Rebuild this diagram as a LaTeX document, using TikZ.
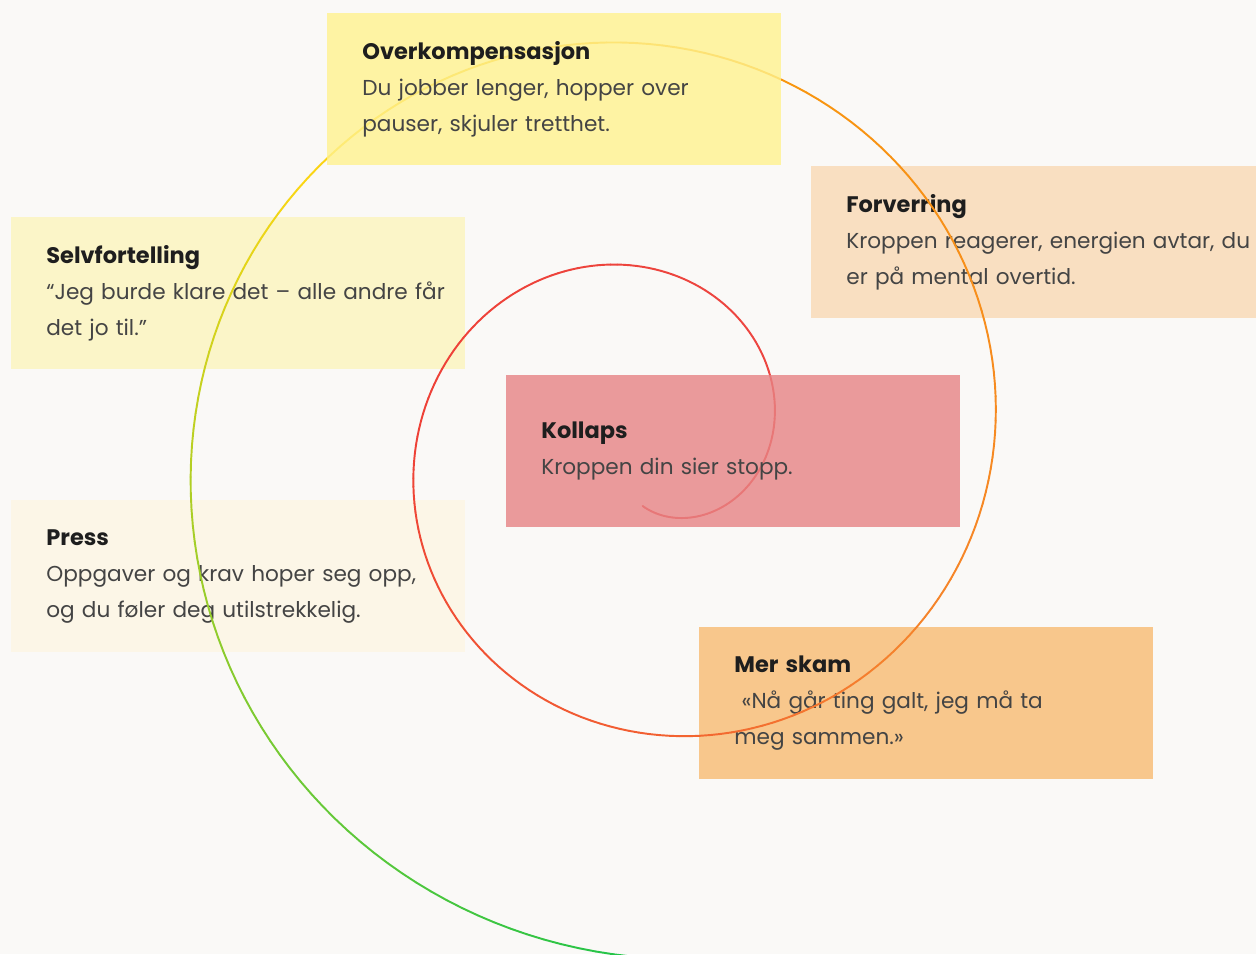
\documentclass[tikz,border=0pt]{standalone}
\usepackage{fontspec}
\setmainfont{Poppins}
\usepackage{xcolor}
\usepackage{tikz}
\definecolor{pagebg}{RGB}{250,249,247}
\definecolor{overfill}{RGB}{255,242,142}
\definecolor{selvfill}{RGB}{251,245,200}
\definecolor{pressfill}{RGB}{252,246,231}
\definecolor{forvfill}{RGB}{249,223,193}
\definecolor{skamfill}{RGB}{248,199,140}
\definecolor{kollfill}{RGB}{231,131,132}
\definecolor{titletext}{RGB}{30,30,30}
\definecolor{bodytext}{RGB}{68,68,68}
\definecolor{spgreen}{RGB}{25,195,75}
\definecolor{splime}{RGB}{170,206,38}
\definecolor{spyellow}{RGB}{250,214,20}
\definecolor{sporange}{RGB}{248,150,15}
\definecolor{sporangeb}{RGB}{245,130,45}
\definecolor{spredorange}{RGB}{242,95,50}
\definecolor{spred}{RGB}{238,65,55}
\definecolor{spredend}{RGB}{235,75,75}
\newcommand{\cardtitle}[1]{{\fontsize{12.8}{20.4}\selectfont\bfseries\color{titletext}#1}}
\newcommand{\cardline}[1]{\mbox{#1}}

\begin{document}
\begin{tikzpicture}[x=0.02cm, y=-0.02cm,
    card/.style={anchor=north west, inner xsep=0.7cm, inner ysep=0pt,
                 minimum width=9.08cm, minimum height=3.04cm, text width=7.68cm,
                 align=left, text=bodytext, font=\fontsize{12.3}{20.4}\selectfont},
    spiral/.style={line width=1.1pt, line cap=round}]
    \clip (0,0) rectangle (1256,954);
    \fill[pagebg] (0,0) rectangle (1256,954);

    % cards under the spiral
    \node[card, fill=selvfill] (selvfortelling) at (11,217) {
        \cardtitle{Selvfortelling}\\
        \cardline{“Jeg burde klare det – alle andre får}\\
        \cardline{det jo til.”}
    };
    \node[card, fill=pressfill] (press) at (11,500) {
        \cardtitle{Press}\\
        \cardline{Oppgaver og krav hoper seg opp,}\\
        \cardline{og du føler deg utilstrekkelig.}
    };
    \node[card, fill=forvfill] (forverring) at (811,166) {
        \cardtitle{Forverring}\\
        \cardline{Kroppen reagerer, energien avtar, du}\\
        \cardline{er på mental overtid.}
    };
    \node[card, fill=skamfill] (merskam) at (699,627) {
        \cardtitle{Mer skam}\\
        \cardline{\ «Nå går ting galt, jeg må ta}\\
        \cardline{meg sammen.»}
    };

    % spiral, coloured piece by piece
    \foreach \ta/\tb/\ca/\cb in {86/170/spgreen/splime, 170/216/splime/spyellow,
        216/290/spyellow/sporange, 290/400/sporange/sporangeb,
        400/450/sporangeb/spredorange, 450/540/spredorange/spred,
        540/816/spred/spredend}{
        \pgfmathtruncatemacro\tsecond{\ta+2}
        \pgfmathtruncatemacro\tlast{\tb-2}
        \foreach \t in {\ta,\tsecond,...,\tlast}{
            \pgfmathtruncatemacro\mix{(\t-\ta)/(\tb-\ta)*100}
            \colorlet{segcol}{\cb!\mix!\ca}
            \draw[spiral, segcol]
                ({649+(513-0.6222*(\t-90))*cos(\t)},{445+(513-0.6222*(\t-90))*sin(\t)}) --
                ({649+(513-0.6222*(\t-88))*cos(\t+2)},{445+(513-0.6222*(\t-88))*sin(\t+2)});
        }
    }

    % cards over the spiral
    \node[card, fill=overfill, fill opacity=0.8, text opacity=1] (overkomp) at (327,13) {
        \cardtitle{Overkompensasjon}\\
        \cardline{Du jobber lenger, hopper over}\\
        \cardline{pauser, skjuler tretthet.}
    };
    \node[card, fill=kollfill, fill opacity=0.8, text opacity=1] (kollaps) at (506,375) {
        \cardtitle{Kollaps}\\
        \cardline{Kroppen din sier stopp.}
    };
\end{tikzpicture}
\end{document}
